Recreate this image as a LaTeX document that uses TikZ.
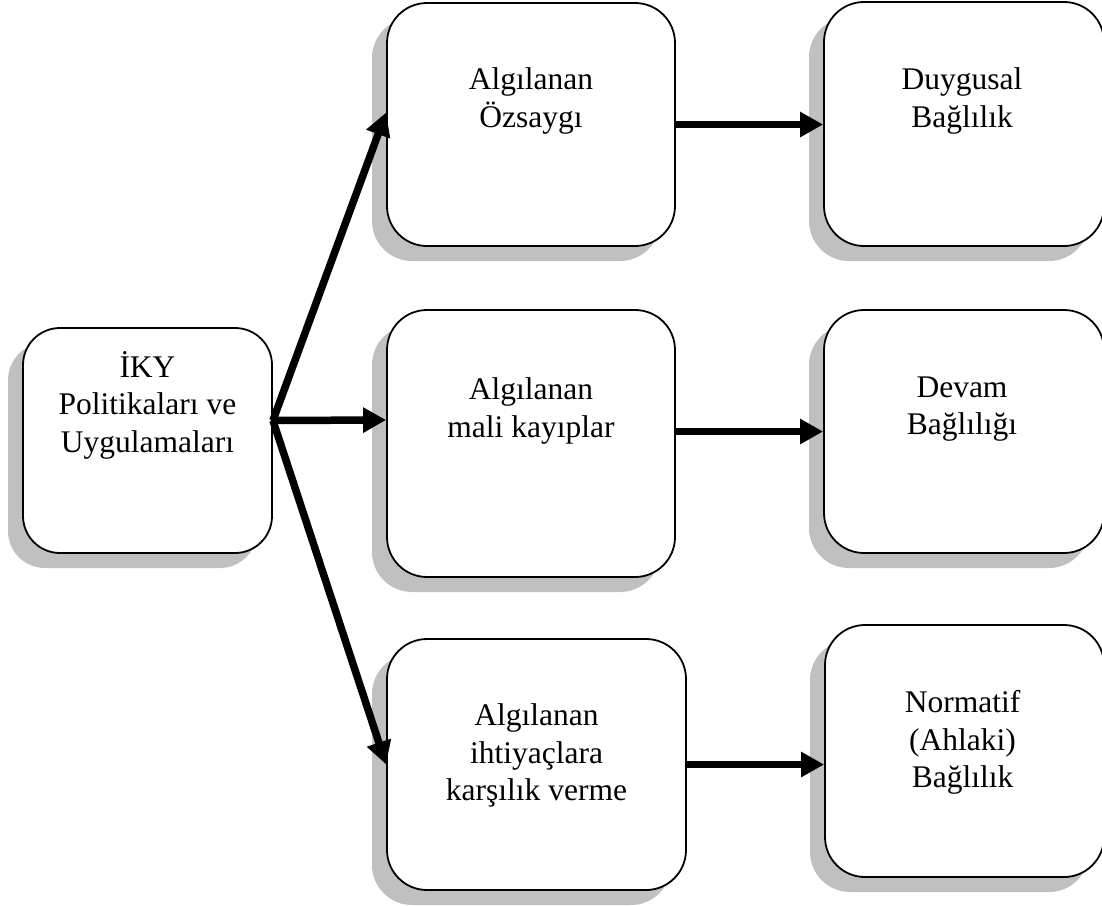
\documentclass[tikz,border=0pt]{standalone}
\usepackage{fontspec}
\setmainfont{Liberation Serif}
\usetikzlibrary{shadows,arrows.meta}
\definecolor{shadowgray}{HTML}{C0C0C0}

\begin{document}
\begin{tikzpicture}[x=1pt, y=-1pt,
    box/.style={draw, line width=1.8pt, fill=white, rounded corners=40pt,
        drop shadow={shadow xshift=-15pt, shadow yshift=-15pt, fill=shadowgray, opacity=1}},
    txt/.style={anchor=north, align=center, inner sep=0pt, font=\fontsize{31.5}{37.5}\selectfont},
    link/.style={line width=7.5pt, -{Triangle[length=23pt, width=24pt]}}]
    \useasboundingbox (0,0) rectangle (1102,905);

    % Draw nodes
    \node[box, minimum width=249pt, minimum height=225pt, rounded corners=37pt] (iky) at (147.5,440.5) {};
    \node[box, minimum width=288pt, minimum height=243pt] (ozs) at (531,124.5) {};
    \node[box, minimum width=288pt, minimum height=267pt] (mali) at (531,443.5) {};
    \node[box, minimum width=299pt, minimum height=251pt] (ihti) at (536.5,764.5) {};
    \node[box, minimum width=280pt, minimum height=244pt] (duyg) at (964,124) {};
    \node[box, minimum width=280pt, minimum height=243pt] (devam) at (964,431.5) {};
    \node[box, minimum width=279pt, minimum height=252pt] (norm) at (964.5,751) {};

    % Texts in the boxes
    \node[txt] (ikyt) at ([yshift=-24pt]iky.north) {İKY\\Politikaları ve\\Uygulamaları};
    \node[txt] (ozst) at ([yshift=-65.5pt]ozs.north) {Algılanan\\Özsaygı};
    \node[txt] (malit) at ([yshift=-68.5pt]mali.north) {Algılanan\\mali kayıplar};
    \node[txt] (ihtit) at ([yshift=-65.5pt]ihti.north) {Algılanan\\ihtiyaçlara\\karşılık verme};
    \node[txt] (duygt) at ([yshift=-66.5pt,xshift=-2pt]duyg.north) {Duygusal\\Bağlılık};
    \node[txt] (devamt) at ([yshift=-67.5pt,xshift=-2pt]devam.north) {Devam\\Bağlılığı};
    \node[txt] (normt) at ([yshift=-66.5pt,xshift=-2pt]norm.north) {Normatif\\(Ahlaki)\\Bağlılık};

    % Draw arrows
    \draw[link] ([yshift=20pt]iky.east) -- ([yshift=12pt]ozs.west);
    \draw[link] ([yshift=20pt]iky.east) -- ([yshift=23.5pt]mali.west);
    \draw[link] ([yshift=20pt]iky.east) -- (ihti.west);
    \draw[link] (ozs.east) -- (ozs.east -| duyg.west);
    \draw[link] (mali.east |- devam.west) -- (devam.west);
    \draw[link] (ihti.east) -- (ihti.east -| norm.west);
\end{tikzpicture}
\end{document}
